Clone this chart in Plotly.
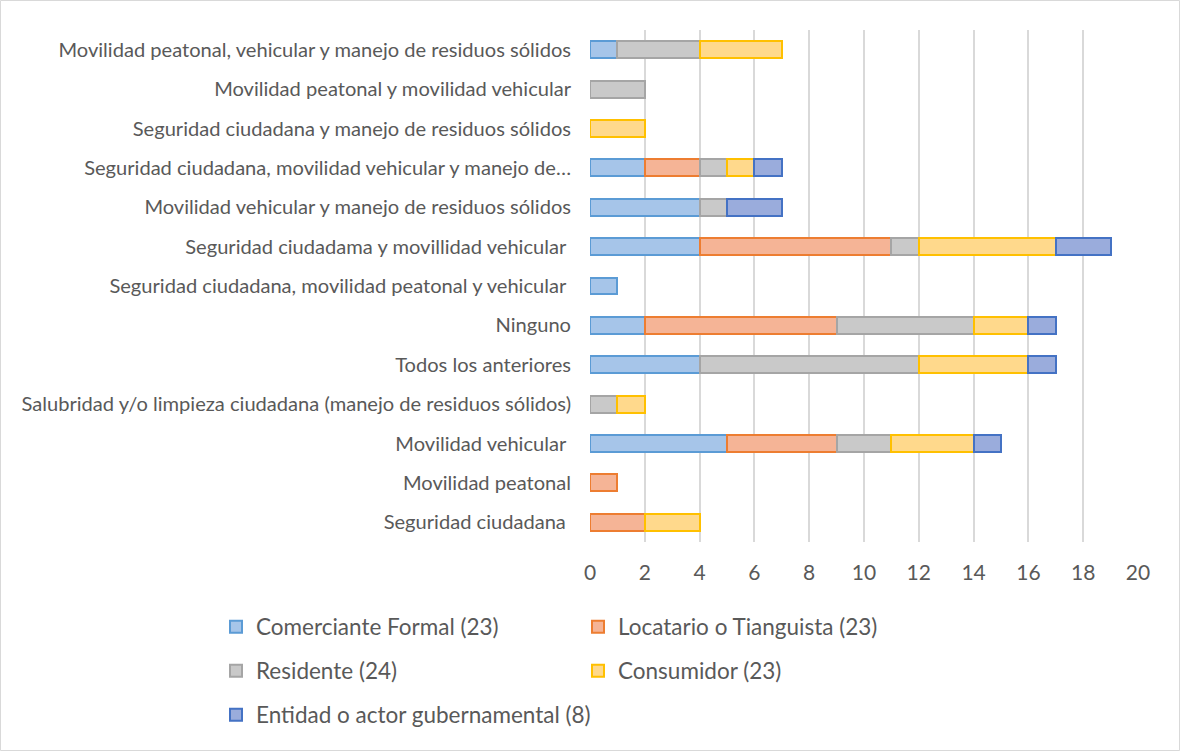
import plotly.graph_objects as go

categories = [
    "Movilidad peatonal, vehicular y manejo de residuos sólidos",
    "Movilidad peatonal y movilidad vehicular",
    "Seguridad ciudadana y manejo de residuos sólidos",
    "Seguridad ciudadana, movilidad vehicular y manejo de…",
    "Movilidad vehicular y manejo de residuos sólidos",
    "Seguridad ciudadama y movillidad vehicular ",
    "Seguridad ciudadana, movilidad peatonal y vehicular ",
    "Ninguno",
    "Todos los anteriores",
    "Salubridad y/o limpieza ciudadana (manejo de residuos sólidos)",
    "Movilidad vehicular ",
    "Movilidad peatonal",
    "Seguridad ciudadana ",
]

comerciante = [1, 0, 0, 2, 4, 4, 1, 2, 4, 0, 5, 0, 0]
locatario = [0, 0, 0, 2, 0, 7, 0, 7, 0, 0, 4, 1, 2]
residente = [3, 2, 0, 1, 1, 1, 0, 5, 8, 1, 2, 0, 0]
consumidor = [3, 0, 2, 1, 0, 5, 0, 2, 4, 1, 3, 0, 2]
entidad = [0, 0, 0, 1, 2, 2, 0, 1, 1, 0, 1, 0, 0]

series_names = [
    "Comerciante Formal (23)",
    "Locatario o Tianguista (23)",
    "Residente (24)",
    "Consumidor (23)",
    "Entidad o actor gubernamental (8)",
]
series_values = [comerciante, locatario, residente, consumidor, entidad]
fills = ["#A6C5E9", "#F5B496", "#C9C9C9", "#FFD98C", "#9AACDC"]
lines = ["#5B9BD5", "#ED7D31", "#A5A5A5", "#FFC000", "#4472C4"]
legend_ids = ["legend", "legend", "legend2", "legend2", "legend3"]

FONT = "Lato, sans-serif"
TXT = "#595959"

fig = go.Figure()
for name, vals, fc, lc, lg in zip(series_names, series_values, fills, lines, legend_ids):
    fig.add_trace(go.Bar(
        y=categories, x=[v if v else None for v in vals], name=name, orientation="h",
        marker=dict(color=fc, line=dict(color=lc, width=2)),
        legend=lg,
    ))

L, R, T, B = 590, 42, 30, 209
W, H = 1180, 751
pw, ph = W - L - R, H - T - B

def px_x(p):
    return (p - L) / pw

def px_y(p):
    return (H - B - p) / ph

legend_common = dict(
    orientation="h", xanchor="left", yanchor="middle",
    font=dict(family=FONT, size=22.5, color=TXT),
    bgcolor="rgba(0,0,0,0)", entrywidthmode="pixels",
    itemclick=False, itemdoubleclick=False, traceorder="normal",
)

fig.update_layout(
    width=W, height=H,
    margin=dict(l=L, r=R, t=T, b=B),
    paper_bgcolor="white", plot_bgcolor="white",
    barmode="stack", bargap=0.57,
    font=dict(family=FONT, color=TXT),
    xaxis=dict(
        range=[0, 20], dtick=2, tick0=0, showgrid=True,
        gridcolor="#D9D9D9", gridwidth=2, zeroline=False,
        showline=False, ticks="", ticklabelstandoff=16,
        tickfont=dict(family=FONT, size=21, color=TXT),
        fixedrange=True, automargin=False,
    ),
    yaxis=dict(
        autorange="reversed", showgrid=False, zeroline=False,
        showline=False, ticks="", ticklabelstandoff=18,
        tickfont=dict(family=FONT, size=20.1, color=TXT),
        fixedrange=True, automargin=False,
    ),
    legend=dict(x=px_x(216), y=px_y(627), entrywidth=317, **legend_common),
    legend2=dict(x=px_x(216), y=px_y(671), entrywidth=317, **legend_common),
    legend3=dict(x=px_x(216), y=px_y(715), entrywidth=0, **legend_common),
    showlegend=True,
    shapes=[dict(
        type="rect", xref="paper", yref="paper",
        x0=px_x(0.5), x1=px_x(W - 0.5), y0=px_y(H - 0.5), y1=px_y(0.5),
        line=dict(color="#D9D9D9", width=1), fillcolor="rgba(0,0,0,0)",
        layer="below",
    )],
)

fig.write_html("out.html")
